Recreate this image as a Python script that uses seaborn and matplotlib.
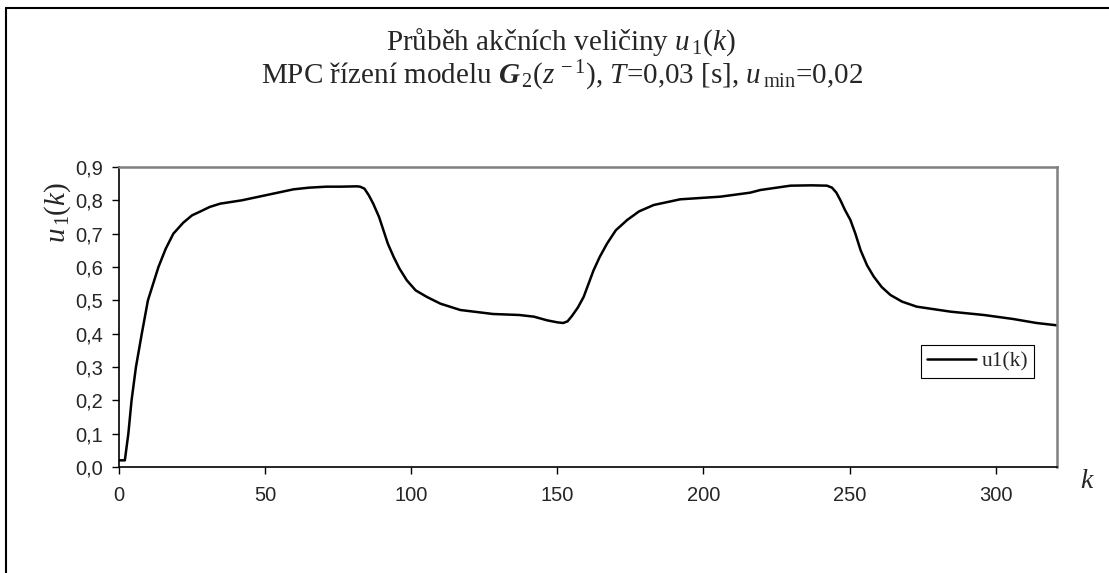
import matplotlib
matplotlib.use("Agg")
import matplotlib.pyplot as plt
import seaborn as sns
import pandas as pd
from matplotlib.lines import Line2D
from matplotlib.ticker import FuncFormatter

# ---- data ----
k_values = [0, 2, 3.2, 4.3, 5.8, 7.8, 9.9, 13.5, 16, 18.6, 22, 25, 27.7, 31, 34.6, 42, 50.6,
            59.7, 65, 71, 76, 81.4, 82.5, 84, 85.5, 87, 89, 90.5, 92, 94, 96, 98.5, 101.5,
            105.4, 110, 116.8, 128, 137, 142, 146.5, 150, 152, 153.5, 155, 157, 159, 160.7,
            162.4, 164.5, 167, 170, 173.9, 178, 183, 192, 205.8, 216, 219.5, 229.8, 237,
            242.3, 244, 245.5, 246.9, 248.5, 250.3, 252, 253.8, 256, 258.3, 261, 264, 268,
            273, 284.6, 296, 306, 314, 321]
u1_values = [0.02, 0.02, 0.10, 0.20, 0.30, 0.40, 0.50, 0.60, 0.655, 0.70, 0.733, 0.755, 0.766,
             0.78, 0.79, 0.80, 0.816, 0.833, 0.838, 0.841, 0.841, 0.842, 0.841, 0.835, 0.815,
             0.79, 0.75, 0.71, 0.67, 0.63, 0.595, 0.56, 0.53, 0.51, 0.49, 0.471, 0.459, 0.456,
             0.451, 0.44, 0.434, 0.432, 0.437, 0.453, 0.478, 0.51, 0.55, 0.59, 0.63, 0.67,
             0.71, 0.741, 0.767, 0.786, 0.803, 0.811, 0.823, 0.831, 0.844, 0.845, 0.844,
             0.838, 0.823, 0.80, 0.77, 0.741, 0.70, 0.65, 0.605, 0.571, 0.54, 0.516, 0.496,
             0.481, 0.466, 0.456, 0.444, 0.432, 0.425]
x_ticks = [0, 50, 100, 150, 200, 250, 300]
y_ticks = [0.0, 0.1, 0.2, 0.3, 0.4, 0.5, 0.6, 0.7, 0.8, 0.9]
series_name = "u1(k)"

sns.set_style("white")
plt.rcParams['font.family'] = ['Liberation Sans', 'DejaVu Sans']
plt.rcParams['mathtext.fontset'] = 'custom'
plt.rcParams['mathtext.rm'] = 'Liberation Serif'
plt.rcParams['mathtext.it'] = 'Liberation Serif:italic'
plt.rcParams['mathtext.bf'] = 'Liberation Serif:italic:bold'

df = pd.DataFrame({"k": k_values, "u1": u1_values})

fig = plt.figure(figsize=(11.09, 5.73), dpi=100)
ax = fig.add_axes([119/1109, 106/573, (1057-119)/1109, (467-167)/573])

sns.lineplot(data=df, x="k", y="u1", ax=ax, color="black", linewidth=1.8, label=series_name)

ax.set_xlim(0, 321)
ax.set_ylim(0, 0.9)
ax.set_xticks(x_ticks)
ax.set_yticks(y_ticks)
ax.yaxis.set_major_formatter(FuncFormatter(lambda v, p: f"{v:.1f}".replace(".", ",")))
ax.tick_params(axis="both", direction="out", length=4.8, width=1, color="black",
               labelsize=14.5, left=True, bottom=True)
ax.tick_params(axis="x", pad=9)
ax.tick_params(axis="y", pad=6.5)

for s in ["left", "bottom"]:
    ax.spines[s].set_color("black")
    ax.spines[s].set_linewidth(1.2)
for s in ["top", "right"]:
    ax.spines[s].set_color("#808080")
    ax.spines[s].set_linewidth(1.8)

ax.set_xlabel("")
ax.set_ylabel("")
fig.text(58/1109, 1 - 212/573, r"$u_{\,1}(k)$", fontsize=21, rotation=90,
         ha="center", va="center")
fig.text(1087/1109, 1 - 481/573, r"$k$", fontsize=20, ha="center", va="center")

fig.text(561/1109, 1 - 42/573, r"Průběh akčních veličiny $u_{\,1}(k)$", ha="center", va="center",
         fontsize=21, family="Liberation Serif")
fig.text(562/1109, 1 - 76/573,
         r"MPC řízení modelu $\mathbf{G}_{\,2}(z^{\,-1})$, $T$=0,03 [s], $u_{\,\mathrm{min}}$=0,02",
         ha="center", va="center", fontsize=21, family="Liberation Serif")

leg = ax.legend(loc="upper left", bbox_to_anchor=((921-119)/(1057-119), (467-345)/300),
                frameon=True, fancybox=False, edgecolor="black", framealpha=1,
                prop={"family": "Liberation Serif", "size": 15.5}, handlelength=2.25,
                borderpad=0.3, handletextpad=0.25, borderaxespad=0)
leg.get_frame().set_linewidth(0.8)

# figure frame (top and left edges visible)
fig.add_artist(Line2D([6/1109, 1], [1 - 8/573, 1 - 8/573], transform=fig.transFigure,
                      color="black", linewidth=1.5))
fig.add_artist(Line2D([6/1109, 6/1109], [0, 1 - 8/573], transform=fig.transFigure,
                      color="black", linewidth=1.5))

fig.savefig("out.png", dpi=100)
